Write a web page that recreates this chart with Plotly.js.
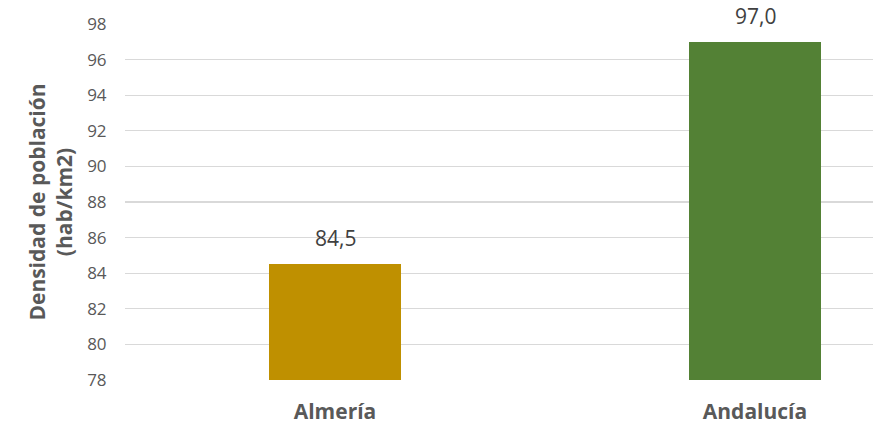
<!DOCTYPE html>
<html><head><meta charset="utf-8">
<script src="https://cdn.plot.ly/plotly-3.0.1.min.js"></script>
<style>html,body{margin:0;padding:0;background:#fff}#chart{width:873px;height:426px}</style>
</head><body><div id="chart"></div>
<script>
const categories = ["Almería", "Andalucía"];
const values = [84.5, 97.0];
const barColors = ["#BF9000", "#538135"];
const yTicks = [78, 80, 82, 84, 86, 88, 90, 92, 94, 96, 98];

const trace = {
  type: 'bar',
  x: [0, 1],
  y: values,
  marker: {color: barColors},
  width: 0.314,
  hoverinfo: 'none'
};

const labelAnnotations = values.map((v, i) => ({
  x: i, y: v, xref: 'x', yref: 'y',
  text: v.toFixed(1).replace('.', ','),
  showarrow: false, yanchor: 'bottom', yshift: 10,
  font: {family: 'Open Sans, sans-serif', size: 21, color: '#404040'}
}));

const layout = {
  width: 873, height: 426,
  margin: {l: 125, r: 0, t: 24, b: 46},
  paper_bgcolor: '#fff', plot_bgcolor: '#fff',
  showlegend: false,
  font: {family: 'Open Sans, sans-serif', color: '#595959'},
  xaxis: {
    range: [-0.5, -0.5 + 748/420],
    tickvals: [0, 1], ticktext: categories,
    ticks: 'outside', ticklen: 13, tickcolor: 'rgba(0,0,0,0)',
    showgrid: false, zeroline: false, showline: false,
    tickfont: {size: 21, color: '#595959', family: 'Open Sans, sans-serif', weight: 'bold'},
    fixedrange: true
  },
  yaxis: {
    range: [78, 98],
    tickvals: yTicks,
    ticks: 'outside', ticklen: 14, tickcolor: 'rgba(0,0,0,0)',
    showgrid: true, gridcolor: '#D9D9D9', gridwidth: 1.3,
    zeroline: false, showline: false,
    tickfont: {size: 17, color: '#595959'},
    title: {text: '<b>Densidad de población<br>(hab/km2)</b>', font: {size: 21, color: '#595959'}, standoff: 8},
    fixedrange: true
  },
  annotations: labelAnnotations,
  bargap: 0
};

Plotly.newPlot('chart', [trace], layout, {displayModeBar: false, staticPlot: true});
</script></body></html>
